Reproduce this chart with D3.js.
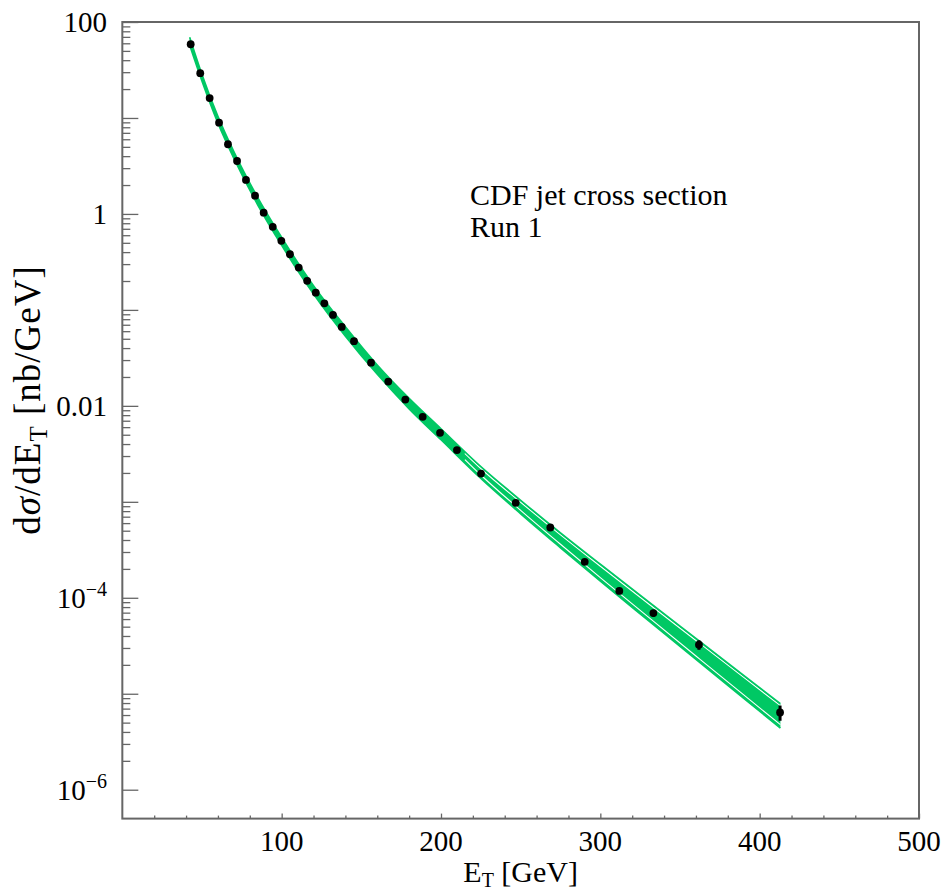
<!DOCTYPE html>
<html><head><meta charset="utf-8">
<script src="https://cdn.jsdelivr.net/npm/d3@7"></script>
<style>
body{margin:0;background:#fff;}
svg text{font-family:"Liberation Serif","DejaVu Serif",serif;fill:#000;}
</style>
</head><body>
<svg id="c" width="947" height="888" font-family="Liberation Serif, DejaVu Serif, serif"></svg>
<script>
// ---- data points (CDF Run 1) ----
const etData = [42.9, 48.9, 54.8, 60.7, 66.3, 72.0, 77.6, 83.3, 88.7, 94.4, 99.8, 105.2, 110.7, 116.0, 121.4, 126.8, 132.2, 137.7, 145.4, 156.1, 166.9, 177.6, 188.5, 199.4, 210.0, 225.1, 246.9, 268.6, 290.2, 311.9, 333.3, 361.9, 412.8];
const sigmaData = [58.6, 29.3, 16.1, 8.93, 5.32, 3.56, 2.26, 1.55, 1.03, 0.733, 0.524, 0.380, 0.276, 0.201, 0.151, 0.117, 0.0887, 0.0665, 0.0472, 0.0282, 0.0179, 0.01163, 0.00768, 0.00523, 0.00346, 0.00197, 9.77e-4, 5.40e-4, 2.37e-4, 1.18e-4, 6.93e-5, 3.24e-5, 6.38e-6];
const sigmaErr = [1.2, 0.6, 0.3, 0.18, 0.11, 0.07, 0.045, 0.031, 0.021, 0.015, 0.011, 0.008, 0.006, 0.004, 0.003, 0.0024, 0.0018, 0.0014, 0.001, 0.0006, 0.0004, 0.00026, 0.00018, 0.00013, 0.00009, 0.00006, 3e-5, 2e-5, 1.1e-5, 7e-6, 5.5e-6, 3.7e-6, 1.15e-6];

// ---- theory uncertainty band ----
const etTheory = [42.3, 50, 60, 70, 85, 100, 120, 140, 160, 180, 200, 225, 250, 275, 300, 330, 360, 390, 413];
const bandHi = [69.2, 28.4, 10.40, 4.46, 1.48, 0.570, 0.179, 0.0668, 0.0267, 0.01197, 0.00577, 2.333e-3, 1.038e-3, 4.75e-4, 2.239e-4, 9.16e-5, 3.77e-5, 1.552e-5, 7.89e-6];
const bandLo = [57.0, 24.1, 8.81, 3.78, 1.239, 0.470, 0.1462, 0.0532, 0.0213, 0.00931, 0.00443, 1.750e-3, 7.50e-4, 3.319e-4, 1.489e-4, 5.81e-5, 2.275e-5, 8.93e-6, 4.39e-6];
const etInner = [215, 225, 250, 275, 300, 330, 360, 390, 413];
const innerHi = [3.19e-3, 2.223e-3, 9.89e-4, 4.53e-4, 2.133e-4, 8.73e-5, 3.59e-5, 1.479e-5, 7.52e-6];
const innerLo = [2.757e-3, 1.903e-3, 8.156e-4, 3.61e-4, 1.620e-4, 6.32e-5, 2.475e-5, 9.72e-6, 4.77e-6];

// ---- axes ----
const xDomain = [0, 500];
const yDomain = [5e-7, 100];
const xMajorTicks = [100, 200, 300, 400, 500];
const xMinorTicks = [20, 40, 60, 80, 120, 140, 160, 180, 220, 240, 260, 280, 320, 340, 360, 380, 420, 440, 460, 480];
const yLabelValues = [100, 1, 0.01, 1e-4, 1e-6];
const yLabelBase = ["100", "1", "0.01", "10", "10"];
const yLabelExp = ["", "", "", "\u22124", "\u22126"];
const yDecades = [-6, -5, -4, -3, -2, -1, 0, 1, 2];
const yMinorMult = [2, 3, 4, 5, 6, 7, 8, 9];
const annotation = ["CDF jet cross section", "Run 1"];

const GREEN = "#00c864";
const AXIS = "#666";
const FONT = "'Liberation Serif', 'DejaVu Serif', serif";

const svg = d3.select("#c");
const L = 122.33, R = 919, T = 22, B = 818.6;
const x = d3.scaleLinear().domain(xDomain).range([L, R]);
const y = d3.scaleLog().domain(yDomain).range([B, T]);

// band
const bandData = etTheory.map((e, i) => ({e, hi: bandHi[i], lo: bandLo[i]}));
const innerData = etInner.map((e, i) => ({e, hi: innerHi[i], lo: innerLo[i]}));
const curve = d3.curveMonotoneX;
svg.append("path").datum(bandData)
  .attr("d", d3.area().curve(curve).x(d => x(d.e)).y0(d => y(d.lo)).y1(d => y(d.hi)))
  .attr("fill", GREEN).attr("stroke", "none");
["hi", "lo"].forEach(k => {
  svg.append("path").datum(innerData)
    .attr("d", d3.line().curve(curve).x(d => x(d.e)).y(d => y(d[k])))
    .attr("fill", "none").attr("stroke", "#fff").attr("stroke-width", 1.1);
});
["hi", "lo"].forEach(k => {
  svg.append("path").datum(bandData)
    .attr("d", d3.line().curve(curve).x(d => x(d.e)).y(d => y(d[k])))
    .attr("fill", "none").attr("stroke", GREEN).attr("stroke-width", 1.6);
});

// data points
const pts = etData.map((e, i) => ({e, v: sigmaData[i], err: sigmaErr[i]}));
svg.append("g").selectAll("line").data(pts).join("line")
  .attr("x1", d => x(d.e)).attr("x2", d => x(d.e))
  .attr("y1", d => y(d.v + d.err)).attr("y2", d => y(d.v - d.err))
  .attr("stroke", "#000").attr("stroke-width", 3);
svg.append("g").selectAll("circle").data(pts).join("circle")
  .attr("cx", d => x(d.e)).attr("cy", d => y(d.v)).attr("r", 3.9).attr("fill", "#000");

// frame
svg.append("rect").attr("x", L).attr("y", T).attr("width", R - L).attr("height", B - T)
  .attr("fill", "none").attr("stroke", AXIS).attr("stroke-width", 2);

// x ticks (inward)
const gx = svg.append("g").attr("transform", `translate(0,${B})`);
gx.call(d3.axisBottom(x).tickValues(xMajorTicks).tickSize(-5).tickFormat(""));
gx.append("g").call(d3.axisBottom(x).tickValues(xMinorTicks).tickSize(-3).tickFormat(""));
gx.selectAll(".domain").remove();
gx.selectAll("line").attr("stroke", AXIS).attr("stroke-width", 1.3);

// y ticks (inward)
const yMajor = yDecades.map(d => Math.pow(10, d));
const yMinor = [];
yDecades.slice(0, -1).forEach(d => yMinorMult.forEach(m => yMinor.push(m * Math.pow(10, d))));
const gy = svg.append("g").attr("transform", `translate(${L},0)`);
gy.call(d3.axisLeft(y).tickValues(yMajor).tickSize(-16).tickFormat(""));
gy.append("g").call(d3.axisLeft(y).tickValues(yMinor).tickSize(-8).tickFormat(""));
gy.selectAll(".domain").remove();
gy.selectAll("line").attr("stroke", AXIS).attr("stroke-width", 1.3);

// tick labels
svg.append("g").selectAll("text").data(xMajorTicks).join("text")
  .attr("x", d => x(d)).attr("y", 851).attr("text-anchor", "middle")
  .attr("font-family", FONT).attr("font-size", 29).text(d => d);
yLabelValues.forEach((v, i) => {
  const t = svg.append("text").attr("x", 107).attr("y", y(v) + 10)
    .attr("text-anchor", "end").attr("font-family", FONT).attr("font-size", 29);
  t.append("tspan").text(yLabelBase[i]);
  if (yLabelExp[i]) t.append("tspan").attr("font-size", 20).attr("dy", -12).text(yLabelExp[i]);
});

// axis titles
const xt = svg.append("text").attr("x", (L + R) / 2).attr("y", 882)
  .attr("text-anchor", "middle").attr("font-family", FONT).attr("font-size", 30);
xt.append("tspan").text("E");
xt.append("tspan").attr("font-size", 20).attr("dy", 5).text("T");
xt.append("tspan").attr("dy", -5).text(" [GeV]");

const yt = svg.append("text").attr("transform", `translate(40,400) rotate(-90)`)
  .attr("text-anchor", "middle").attr("font-family", FONT).attr("font-size", 37)
  .attr("letter-spacing", 1);
yt.append("tspan").text("d");
yt.append("tspan").attr("font-style", "italic").text("\u03c3");
yt.append("tspan").text("/dE");
yt.append("tspan").attr("font-size", 25).attr("dy", 7).text("T");
yt.append("tspan").attr("dy", -7).text(" [nb/GeV]");

// annotation
annotation.forEach((s, i) => {
  svg.append("text").attr("x", 470).attr("y", 205 + i * 32)
    .attr("font-family", FONT).attr("font-size", 30).text(s);
});
</script>
</body></html>
